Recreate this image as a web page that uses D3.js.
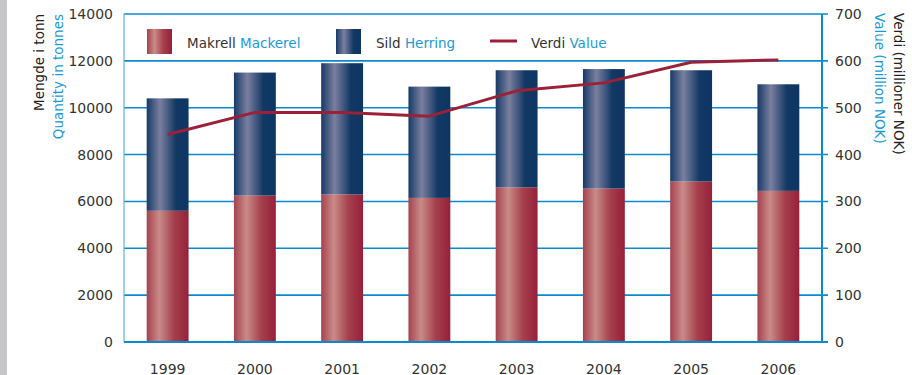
<!DOCTYPE html>
<html>
<head>
<meta charset="utf-8">
<script src="https://cdn.jsdelivr.net/npm/d3@7"></script>
<style>
  html, body { margin: 0; padding: 0; background: #fff; }
  svg { display: block; font-family: "DejaVu Sans", sans-serif; }
</style>
</head>
<body>
<svg id="chart" width="912" height="375"></svg>
<script>
// Landings per year: mackerel and herring (tonnes), total value (million NOK)
const years = ["1999", "2000", "2001", "2002", "2003", "2004", "2005", "2006"];
const mackerel = [5600, 6250, 6300, 6150, 6600, 6550, 6850, 6450];
const herring = [4800, 5250, 5600, 4750, 5000, 5100, 4750, 4550];
const value = [443, 490, 490, 482, 536, 553, 597, 602];
const leftTicks = [0, 2000, 4000, 6000, 8000, 10000, 12000, 14000];
const rightTicks = [0, 100, 200, 300, 400, 500, 600, 700];

const BLUE = "#0b8ad0";
const TEXT_BLUE = "#1a9ad8";
const RED = "#9b2038";

const svg = d3.select("#chart");
const m = { left: 124, right: 822, top: 14, bottom: 342 };

// grey strip on the left edge
svg.append("rect").attr("x", 0).attr("y", 0).attr("width", 7).attr("height", 375).attr("fill", "#c6c6c8");

const x = d3.scaleBand().domain(years).range([m.left, m.right]).paddingInner(0.52).paddingOuter(0.26);
const yL = d3.scaleLinear().domain([0, 14000]).range([m.bottom, m.top]);
const yR = d3.scaleLinear().domain([0, 700]).range([m.bottom, m.top]);

const defs = svg.append("defs");
function grad(id, stops) {
  const g = defs.append("linearGradient").attr("id", id).attr("x1", "0%").attr("x2", "100%").attr("y1", "0%").attr("y2", "0%");
  stops.forEach(([o, c]) => g.append("stop").attr("offset", o).attr("stop-color", c));
}
grad("gMack", [["0%", "#a5424f"], ["30%", "#c98b87"], ["65%", "#a5404c"], ["100%", "#96203a"]]);
grad("gHerr", [["0%", "#163a68"], ["32%", "#7b7f9f"], ["70%", "#123864"], ["100%", "#0e3662"]]);

// gridlines (right axis ticks extend beyond the frame)
svg.append("g").selectAll("line").data(leftTicks).join("line")
  .attr("x1", m.left).attr("x2", m.right + 6)
  .attr("y1", d => yL(d)).attr("y2", d => yL(d))
  .attr("stroke", BLUE).attr("stroke-width", 1.6);

// left axis line
svg.append("line").attr("x1", m.left).attr("x2", m.left).attr("y1", m.top).attr("y2", m.bottom)
  .attr("stroke", "#5fb3e2").attr("stroke-width", 1.2);
// right axis line
svg.append("line").attr("x1", m.right).attr("x2", m.right).attr("y1", m.top).attr("y2", m.bottom + 1)
  .attr("stroke", BLUE).attr("stroke-width", 2);
// baseline
svg.append("line").attr("x1", m.left).attr("x2", m.right + 6).attr("y1", m.bottom).attr("y2", m.bottom)
  .attr("stroke", BLUE).attr("stroke-width", 2.2);

// stacked bars
const stackData = years.map((yr, i) => ({ year: yr, mackerel: mackerel[i], herring: herring[i] }));
const series = d3.stack().keys(["mackerel", "herring"])(stackData);
const fills = { mackerel: "url(#gMack)", herring: "url(#gHerr)" };
svg.append("g").selectAll("g").data(series).join("g")
  .attr("fill", s => fills[s.key])
  .selectAll("rect").data(s => s).join("rect")
  .attr("x", d => x(d.data.year))
  .attr("width", x.bandwidth())
  .attr("y", d => yL(d[1]))
  .attr("height", d => yL(d[0]) - yL(d[1]));

// redraw baseline over bar bottoms
svg.append("line").attr("x1", m.left).attr("x2", m.right + 6).attr("y1", m.bottom).attr("y2", m.bottom)
  .attr("stroke", BLUE).attr("stroke-width", 2.2);

// value line
const line = d3.line().x((d, i) => x(years[i]) + x.bandwidth() / 2).y(d => yR(d));
svg.append("path").datum(value).attr("d", line)
  .attr("fill", "none").attr("stroke", RED).attr("stroke-width", 3).attr("stroke-linejoin", "round");

// axes labels
const axisL = d3.axisLeft(yL).tickValues(leftTicks).tickSize(0).tickPadding(11).tickFormat(d3.format("d"));
const gL = svg.append("g").attr("transform", `translate(${m.left},0)`).call(axisL);
gL.select(".domain").remove();
gL.selectAll("text").attr("font-size", 14).attr("fill", "#333").attr("font-family", "DejaVu Sans, sans-serif");

const axisR = d3.axisRight(yR).tickValues(rightTicks).tickSize(0).tickPadding(13).tickFormat(d3.format("d"));
const gR = svg.append("g").attr("transform", `translate(${m.right},0)`).call(axisR);
gR.select(".domain").remove();
gR.selectAll("text").attr("font-size", 14).attr("fill", "#333").attr("font-family", "DejaVu Sans, sans-serif");

const axisB = d3.axisBottom(x).tickSize(0).tickPadding(22);
const gB = svg.append("g").attr("transform", `translate(0,${m.bottom})`).call(axisB);
gB.select(".domain").remove();
gB.selectAll("text").attr("font-size", 14).attr("fill", "#333").attr("font-family", "DejaVu Sans, sans-serif");

// axis titles
function vtitle(xPos, yPos, angle, anchor, parts) {
  const t = svg.append("text").attr("transform", `translate(${xPos},${yPos}) rotate(${angle})`)
    .attr("text-anchor", anchor).attr("font-size", 13.5);
  parts.forEach(([s, c]) => t.append("tspan").attr("fill", c).text(s));
}
vtitle(44, 14, -90, "end", [["Mengde i tonn", "#222"]]);
vtitle(63, 14, -90, "end", [["Quantity in tonnes", TEXT_BLUE]]);
vtitle(894, 13, 90, "start", [["Verdi  (millioner NOK)", "#222"]]);
vtitle(875, 13, 90, "start", [["Value (million NOK)", TEXT_BLUE]]);

// legend
const leg = svg.append("g");
const legItems = [
  { x: 147, type: "rect", fill: "url(#gMack)", a: "Makrell ", b: "Mackerel" },
  { x: 336, type: "rect", fill: "url(#gHerr)", a: "Sild ", b: "Herring" },
  { x: 490, type: "line", a: "Verdi ", b: "Value" }
];
legItems.forEach(it => {
  if (it.type === "rect") {
    const lg = leg.append("g");
    lg.append("rect").attr("x", it.x).attr("y", 29).attr("width", 25).attr("height", 25).attr("fill", it.fill);
  } else {
    leg.append("line").attr("x1", it.x).attr("x2", it.x + 27).attr("y1", 41).attr("y2", 41)
      .attr("stroke", RED).attr("stroke-width", 3);
  }
  const tx = leg.append("text").attr("x", it.x + (it.type === "rect" ? 40 : 41)).attr("y", 47.5).attr("font-size", 13.5);
  tx.append("tspan").attr("fill", "#333").text(it.a);
  tx.append("tspan").attr("fill", TEXT_BLUE).text(it.b);
});
</script>
</body>
</html>
